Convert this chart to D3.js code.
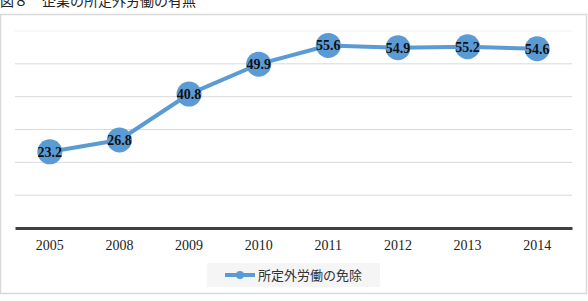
<!DOCTYPE html>
<html><head><meta charset="utf-8">
<script src="https://cdn.jsdelivr.net/npm/d3@7"></script>
<style>body{margin:0;background:#fff}svg{display:block}</style>
</head><body>
<svg id="c" width="588" height="301"></svg>
<script>
const title = "図８　企業の所定外労働の有無";
const categories = ["2005","2008","2009","2010","2011","2012","2013","2014"];
const values = [23.2, 26.8, 40.8, 49.9, 55.6, 54.9, 55.2, 54.6];
const seriesName = "所定外労働の免除";
const yTicks = [0,10,20,30,40,50,60];

const svg = d3.select("#c");
const color = "#5b9bd5";
const serif = "'Liberation Serif','DejaVu Serif',serif";
const cjk = "'Noto Sans CJK JP',sans-serif";

// title (partly cut off at top, as in the source)
svg.append("text").attr("x",0).attr("y",6).attr("font-family",cjk)
  .attr("font-size",14).attr("fill","#222").text(title);

// chart frame
svg.append("rect").attr("x",0.5).attr("y",14.5).attr("width",586).attr("height",279)
  .attr("fill","#fff").attr("stroke","#d9d9d9").attr("stroke-width",1.5);

const x = d3.scaleBand().domain(categories).range([15,572]);
const y = d3.scaleLinear().domain([0,60]).range([228,31]);

// gridlines
svg.append("g").selectAll("line").data(yTicks.filter(t=>t>0)).join("line")
  .attr("x1",15).attr("x2",572).attr("y1",d=>y(d)).attr("y2",d=>y(d))
  .attr("stroke",d=>d===60?"#efefef":"#d9d9d9").attr("stroke-width",1);

// x axis
const xAxis = svg.append("g").attr("transform",`translate(0,${y(0)})`)
  .call(d3.axisBottom(x).tickSize(0).tickPadding(12));
xAxis.select(".domain").attr("stroke","#404040").attr("stroke-width",3);
xAxis.selectAll("text").attr("font-family",serif).attr("font-size",14).attr("fill","#222");

// line
const line = d3.line().x((d,i)=>x(categories[i])+x.bandwidth()/2).y(d=>y(d));
svg.append("path").datum(values).attr("d",line).attr("fill","none")
  .attr("stroke",color).attr("stroke-width",4).attr("stroke-linejoin","round");

// markers
svg.append("g").selectAll("circle").data(values).join("circle")
  .attr("cx",(d,i)=>x(categories[i])+x.bandwidth()/2).attr("cy",d=>y(d))
  .attr("r",12.5).attr("fill",color);

// data labels
svg.append("g").selectAll("text").data(values).join("text")
  .attr("x",(d,i)=>x(categories[i])+x.bandwidth()/2).attr("y",d=>y(d))
  .attr("dy","0.35em").attr("text-anchor","middle")
  .attr("font-family",serif).attr("font-size",14).attr("font-weight","bold")
  .attr("fill","#111").text(d=>d.toFixed(1));

// legend
const lg = svg.append("g");
lg.append("rect").attr("x",207).attr("y",263).attr("width",173).attr("height",24).attr("fill","#f5f5f5");
lg.append("line").attr("x1",225).attr("x2",255).attr("y1",275).attr("y2",275)
  .attr("stroke",color).attr("stroke-width",4);
lg.append("circle").attr("cx",240).attr("cy",275).attr("r",4).attr("fill",color);
lg.append("text").attr("x",258).attr("y",275).attr("dy","0.35em")
  .attr("font-family",cjk).attr("font-size",13).attr("fill","#333").text(seriesName);
</script>
</body></html>
